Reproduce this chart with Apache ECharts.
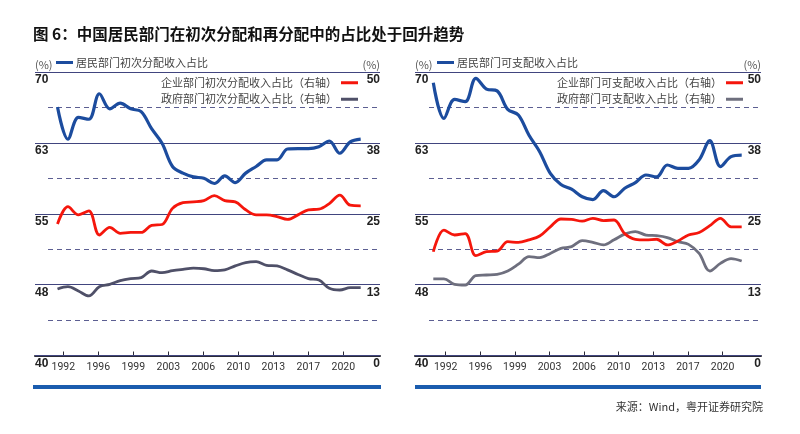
<!DOCTYPE html>
<html><head><meta charset="utf-8">
<script src="https://cdn.jsdelivr.net/npm/echarts@6/dist/echarts.min.js"></script>
<style>html,body{margin:0;padding:0;background:#fff}#c{width:800px;height:434px}</style>
</head><body><div id="c"></div>
<script>
// ---- data ----
const years = [1992,1993,1994,1995,1996,1997,1998,1999,2000,2001,2002,2003,2004,2005,2006,2007,2008,2009,2010,2011,2012,2013,2014,2015,2016,2017,2018,2019,2020,2021];
const xTickLabels = ['1992','1996','1999','2003','2006','2010','2013','2017','2020'];
const leftTickLabels = ['40','48','55','63','70'];
const rightTickLabels = ['0','13','25','38','50'];

// 初次分配
const hhPrimary   = [66.3,62.9,65.2,65.0,67.7,66.1,66.7,66.1,65.8,64.0,62.45,60.0,59.3,58.9,58.75,58.2,59.0,58.3,59.3,60.0,60.7,60.7,61.85,61.9,61.9,62.1,62.7,61.4,62.6,62.9];
const corpPrimary = [23.2,26.25,24.8,25.5,21.25,22.6,21.55,21.7,21.7,22.95,23.1,25.95,26.95,27.1,27.3,28.2,27.3,27.1,25.7,24.8,24.8,24.5,24.0,24.8,25.7,25.8,26.8,28.3,26.5,26.4];
const govPrimary  = [11.73,12.14,11.38,10.5,12.14,12.55,13.2,13.55,13.73,14.9,14.6,14.96,15.2,15.4,15.3,14.96,15.1,15.8,16.4,16.55,15.9,15.8,15.1,14.3,13.55,13.3,11.85,11.55,11.97,11.97];
// 可支配
const hhDisp   = [68.87,65.1,67.1,66.86,69.33,68.2,68.0,66.05,65.45,63.3,61.57,59.28,58.1,57.6,56.8,56.5,57.44,56.8,57.7,58.3,59.1,58.9,60.16,59.8,59.8,60.7,62.73,59.98,61.04,61.2];
const corpDisp = [18.3,22.1,21.25,21.5,17.6,18.3,18.4,20.07,19.95,20.4,21.07,22.7,24.07,24.0,23.7,24.2,23.8,23.9,21.5,20.5,20.4,20.5,19.5,20.2,21.25,21.7,22.9,24.2,22.7,22.7];
const govDisp  = [13.5,13.5,12.55,12.43,14.1,14.2,14.3,14.9,16.1,17.43,17.25,18.0,18.9,19.2,20.25,19.96,19.5,20.4,21.4,21.84,21.25,21.13,20.8,20.07,19.6,18.0,14.9,16.25,17.1,16.66];

const names = [
  ['居民部门初次分配收入占比','企业部门初次分配收入占比（右轴）','政府部门初次分配收入占比（右轴）'],
  ['居民部门可支配收入占比','企业部门可支配收入占比（右轴）','政府部门可支配收入占比（右轴）']
];

const FONT = "'Noto Sans CJK SC','Noto Sans',sans-serif";
const pair = arr => years.map((y,i)=>[y,arr[i]]);

const panels = [
  {gl:35, gr:420, dl:48, xmin:1989.848, xmax:2022.846, tStart:1992.555, tStep:3.348,
   leg1Left:56, leg2Right:442, grayColor:'#4f5068', data:[hhPrimary,corpPrimary,govPrimary]},
  {gl:415, gr:39, dl:429, xmin:1990.279, xmax:2022.815, tStart:1993.166, tStep:3.254,
   leg1Left:437, leg2Right:57, grayColor:'#6e6f7e', data:[hhDisp,corpDisp,govDisp]}
];

const TOP = 72, BOTTOM = 78.5;
const solidColor = '#41457f', dashColor = '#5c5f92';

const grid=[], xAxis=[], yAxis=[], series=[], legend=[];
panels.forEach((p,k)=>{
  const g0 = grid.length;
  grid.push({left:p.gl, right:p.gr, top:TOP, bottom:BOTTOM});
  grid.push({left:p.dl, right:p.gr, top:TOP, bottom:BOTTOM});
  const ticks = xTickLabels.map((_,i)=>p.tStart + i*p.tStep);
  const x0 = xAxis.length;
  xAxis.push({gridIndex:g0, type:'value', min:p.xmin, max:p.xmax,
    axisLine:{show:true, onZero:false, lineStyle:{color:'#2a2a36', width:2}},
    axisTick:{show:true, inside:true, length:4, customValues:ticks, lineStyle:{color:'#2a2a36', width:1}},
    axisLabel:{customValues:ticks, margin:6, color:'#333', fontSize:10.5, fontFamily:'Roboto, sans-serif',
      formatter:(v)=>xTickLabels[Math.round((v-p.tStart)/p.tStep)]},
    splitLine:{show:false}});
  xAxis.push({gridIndex:g0+1, type:'value', min:p.xmin, max:p.xmax, show:false});
  const y0 = yAxis.length;
  yAxis.push({gridIndex:g0, type:'value', position:'left', min:40, max:70, interval:7.5, z:2,
    name:'(%)', nameLocation:'end', nameGap:2,
    nameTextStyle:{align:'left', verticalAlign:'bottom', color:'#555', fontSize:11, fontFamily:FONT},
    axisLine:{show:false}, axisTick:{show:false},
    axisLabel:{inside:true, margin:0, verticalAlign:'top', padding:[2,0,0,0], color:'#222', fontWeight:'bold', fontSize:12, fontFamily:"'Liberation Sans',sans-serif",
      formatter:(v,i)=>leftTickLabels[Math.round((v-40)/7.5)]},
    splitLine:{show:true, showMinLine:true, showMaxLine:true, lineStyle:{color:solidColor, width:1, type:'solid'}}});
  yAxis.push({gridIndex:g0, type:'value', position:'right', min:0, max:50, interval:12.5, z:2,
    name:'(%)', nameLocation:'end', nameGap:2,
    nameTextStyle:{align:'right', verticalAlign:'bottom', color:'#555', fontSize:11, fontFamily:FONT},
    axisLine:{show:false}, axisTick:{show:false},
    axisLabel:{inside:true, margin:0, verticalAlign:'top', padding:[2,0,0,0], color:'#222', fontWeight:'bold', fontSize:12, fontFamily:"'Liberation Sans',sans-serif",
      formatter:(v,i)=>rightTickLabels[Math.round(v/12.5)]},
    splitLine:{show:false}});
  yAxis.push({gridIndex:g0+1, type:'value', min:40, max:70, interval:3.75, z:0,
    axisLine:{show:false}, axisTick:{show:false}, axisLabel:{show:false},
    splitLine:{show:true, showMaxLine:false, lineStyle:{color:dashColor, width:1, type:[5,4]}}});

  const nm = names[k];
  series.push({name:nm[0], type:'line', xAxisIndex:x0, yAxisIndex:y0, data:pair(p.data[0]),
    smooth:0.35, showSymbol:false, lineStyle:{color:'#1c4c9e', width:3.2}, itemStyle:{color:'#1c4c9e'}, z:5});
  series.push({name:nm[1], type:'line', xAxisIndex:x0, yAxisIndex:y0+1, data:pair(p.data[1]),
    smooth:0.35, showSymbol:false, lineStyle:{color:'#f5160c', width:2.8}, itemStyle:{color:'#f5160c'}, z:4});
  series.push({name:nm[2], type:'line', xAxisIndex:x0, yAxisIndex:y0+1, data:pair(p.data[2]),
    smooth:0.35, showSymbol:false, lineStyle:{color:p.grayColor, width:2.8}, itemStyle:{color:p.grayColor}, z:3});

  legend.push({data:[{name:nm[0], icon:'rect'}], left:p.leg1Left, top:57, itemWidth:17, itemHeight:3,
    padding:0, selectedMode:false, textStyle:{color:'#444', fontSize:11, fontFamily:FONT, padding:[0,0,0,-2]}});
  legend.push({data:[{name:nm[1], icon:'rect'},{name:nm[2], icon:'rect'}], right:p.leg2Right, top:75,
    orient:'vertical', align:'right', itemWidth:17, itemHeight:3, itemGap:1, padding:0, selectedMode:false,
    textStyle:{color:'#444', fontSize:11, lineHeight:15.5, fontFamily:FONT, padding:[0,-1,0,0]}});
});

const option = {
  animation:false,
  backgroundColor:'#fff',
  grid, xAxis, yAxis, series, legend,
  graphic:[
    {type:'text', left:33, top:26, style:{text:'图 6：中国居民部门在初次分配和再分配中的占比处于回升趋势',
      fill:'#111', font:"bold 15.5px 'Noto Sans CJK SC'"}},
    {type:'rect', shape:{x:33, y:385, width:348, height:4}, style:{fill:'#1a5cae'}},
    {type:'rect', shape:{x:415, y:385, width:346, height:4}, style:{fill:'#1a5cae'}},
    {type:'text', right:37, top:401, style:{text:'来源：Wind，粤开证券研究院', fill:'#333', font:"11px 'Noto Sans CJK SC'"}}
  ]
};
const chart = echarts.init(document.getElementById('c'), null, {renderer:'canvas'});
chart.setOption(option);
</script></body></html>
